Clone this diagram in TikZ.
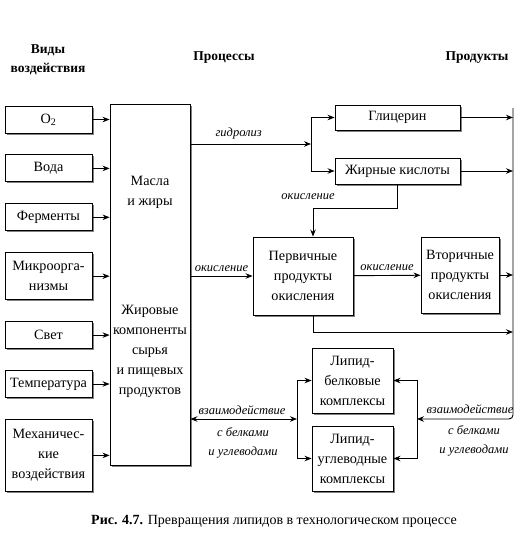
\documentclass[tikz,border=0pt]{standalone}
\usepackage{fontspec}
\setmainfont{Liberation Serif}
\usetikzlibrary{positioning}
\usetikzlibrary{shadows}
\usetikzlibrary{arrows.meta}

\begin{document}
\begin{tikzpicture}[x=1pt, y=-1pt, node distance=21pt, line width=0.9pt,
        >={Stealth[length=7pt, width=5.5pt]},
        txt/.style={align=center, font=\fontsize{14.2}{20}\selectfont},
        block/.style={txt, draw, fill=white, inner sep=0pt,
            drop shadow={shadow xshift=1.5pt, shadow yshift=-1.5pt, opacity=1}},
        inflow/.style={block, minimum width=87pt, minimum height=27pt},
        head/.style={align=center, font=\fontsize{13.5}{19}\selectfont\bfseries},
        lbl/.style={align=center, inner sep=1pt, font=\fontsize{12.5}{19}\selectfont\itshape}]
        \useasboundingbox (0,0) rectangle (528,552);
        
        \node (h1) [head] at (48,60) {Виды\\воздействия};
        \node (h2) [head] at (224,58) {Процессы};
        \node (h3) [head] at (477,58) {Продукты};
        
        % influences
        \node (o2) [inflow] at (48.5,119.5) {O\textsubscript{2}};
        \node (voda) [inflow, below=of o2] {Вода};
        \node (ferm) [inflow, below=of voda] {Ферменты};
        \node (micro) [inflow, below=of ferm, minimum height=47pt] {Микроорга-\\низмы};
        \node (svet) [inflow, below=of micro] {Свет};
        \node (temp) [inflow, below=of svet] {Температура};
        \node (mech) [inflow, below=of temp, minimum height=72pt] {Механичес-\\кие\\воздействия};
        
        \node (fat) [block, minimum width=80pt, minimum height=361pt] at (150,284.5) {};
        \node (fat1) [txt] at (150,192) {Масла\\и жиры};
        \node (fat2) [txt] at (150,351) {Жировые\\компоненты\\сырья\\и пищевых\\продуктов};
        
        \foreach \n in {o2, voda, ferm, micro, svet, temp, mech}
            \draw[->] (\n) -- (\n -| fat.west);
        
        % processes and products
        \coordinate (split) at (311,144);
        \coordinate (bustop) at (513,108);
        \coordinate (busmid) at (513,332);
        \coordinate (lbr) at (297,419);
        \coordinate (rbr) at (417,419);
        
        \node (glyc) [block, minimum width=125pt, minimum height=25pt] at (397.5,117.5) {Глицерин};
        \node (acid) [block, minimum width=125pt, minimum height=26pt] at (397.5,171) {Жирные кислоты};
        \node (prim) [block, minimum width=100pt, minimum height=78pt] at (303,276) {Первичные\\продукты\\окисления};
        \node (sec) [block, minimum width=78pt, minimum height=76pt] at (460,275) {Вторичные\\продукты\\окисления};
        \node (lb) [block, minimum width=81pt, minimum height=65pt] at (352.5,380.5) {Липид-\\белковые\\комплексы};
        \node (lc) [block, minimum width=81pt, minimum height=65pt] at (352.5,458.5) {Липид-\\углеводные\\комплексы};
        
        \draw[->] (fat.east |- split) -- (split) node[lbl, pos=0.4, above=3pt] {гидролиз};
        \draw[->] (split) |- (glyc);
        \draw[->] (split) |- (acid);
        \draw[->] (glyc) -- (glyc -| bustop);
        \draw[->] (acid) -- (acid -| bustop);
        
        \draw[->] (acid.south) -- ++(0,24) -| ([xshift=10pt]prim.north);
        \node (ox1) [lbl] at (308,197) {окисление};
        \draw[->] (fat.east |- prim) -- (prim) node[lbl, midway, above=3pt] {окисление};
        \draw[->] (prim) -- (sec) node[lbl, midway, above=3pt] {окисление};
        \draw[->] (sec) -- (sec -| bustop);
        \draw[->] ([xshift=10pt]prim.south) |- (busmid);
        
        \draw[->, rounded corners=4pt] (bustop) |- (rbr);
        \draw[->] (rbr) |- (lb);
        \draw[->] (rbr) |- (lc);
        \draw[->] (lbr) |- (lb);
        \draw[->] (lbr) |- (lc);
        \draw[<->] (fat.east |- lbr) -- (lbr);
        
        \node (int1) [lbl] at (242,410) {взаимодействие};
        \node (int2) [lbl] at (243,443) {с белками\\и углеводами};
        \node (int3) [lbl] at (470,409) {взаимодействие};
        \node (int4) [lbl] at (474,441) {с белками\\и углеводами};
        
        \node (cap) [font=\fontsize{14}{16}\selectfont] at (274,521) {\textbf{Рис. 4.7.} Превращения липидов в технологическом процессе};
    \end{tikzpicture}
\end{document}
